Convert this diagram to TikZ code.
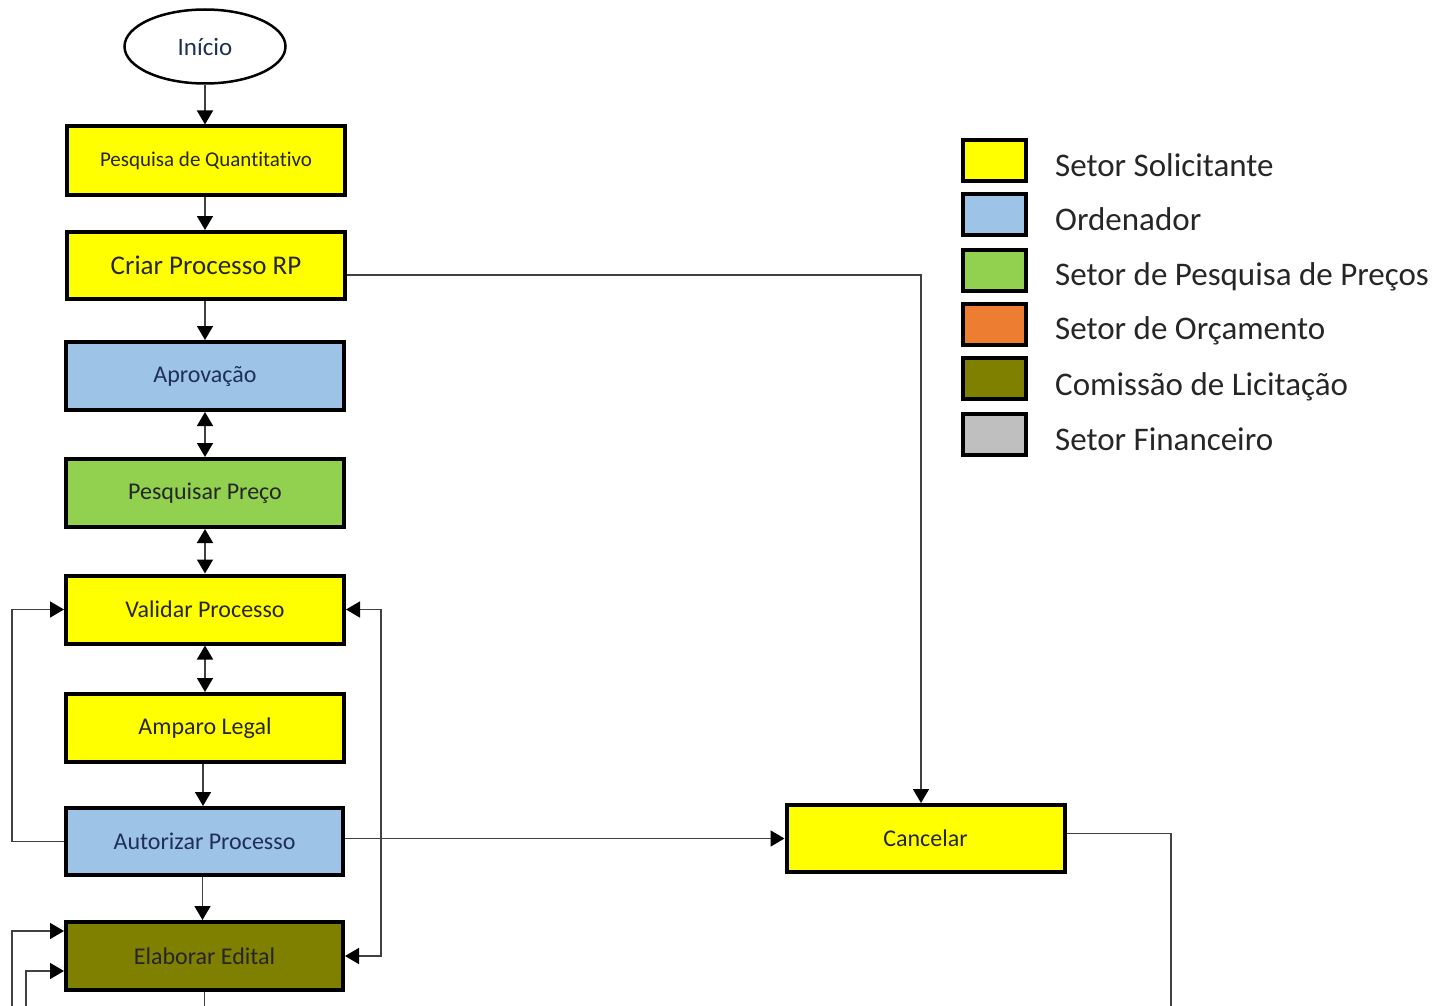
\documentclass[tikz,border=0pt]{standalone}
\usepackage{fontspec}
\setmainfont{Carlito}[RawFeature={-liga;-clig;-dlig}]
\usetikzlibrary{arrows.meta,shapes.geometric}
\definecolor{cyel}{HTML}{FFFF00}
\definecolor{cblue}{HTML}{9DC3E6}
\definecolor{cgreen}{HTML}{92D050}
\definecolor{corange}{HTML}{ED7D31}
\definecolor{colive}{HTML}{7F7F00}
\definecolor{cgrey}{HTML}{BFBFBF}
\definecolor{navy}{HTML}{1F2F55}
\definecolor{txt}{HTML}{262626}
\tikzset{
  procbox/.style={draw=black, line width=4pt, minimum width=278pt, minimum height=68pt, inner sep=0pt, text=txt, font=\fontsize{24}{28}\selectfont},
  swatch/.style={draw=black, line width=4pt, minimum width=63pt, minimum height=41pt, inner sep=0pt},
  legtext/.style={anchor=base west, inner sep=0pt, text=txt, font=\fontsize{33}{38}\selectfont},
  conn/.style={line width=1.6pt, draw=black!75, arrows={-Triangle[width=16pt,length=14pt,color=black]}},
  conn2/.style={line width=1.6pt, draw=black!75, arrows={Triangle[width=16pt,length=14pt,color=black]-Triangle[width=16pt,length=14pt,color=black]}},
  plain/.style={line width=1.6pt, draw=black!75}
}
\begin{document}
\begin{tikzpicture}[x=1pt,y=-1pt]
\useasboundingbox (0,0) rectangle (1435,1006);
% nodes
\node[ellipse, draw=black, line width=2.5pt, minimum width=161pt, minimum height=74pt, inner sep=0pt, text=navy, font=\fontsize{25}{30}\selectfont] (start) at (205,46.5) {Início};
\node[procbox, fill=cyel, font=\fontsize{21}{25}\selectfont] (pq) at (206,160.5) {Pesquisa de Quantitativo};
\node[procbox, fill=cyel, font=\fontsize{27}{31}\selectfont, minimum height=67pt] (crp) at (206,265.5) {Criar Processo RP};
\node[procbox, fill=cblue, text=navy] (apr) at (205,376) {Aprovação};
\node[procbox, fill=cgreen] (pp) at (205,493) {Pesquisar Preço};
\node[procbox, fill=cyel] (vp) at (205,609.5) {Validar Processo};
\node[procbox, fill=cyel] (al) at (205,728) {Amparo Legal};
\node[procbox, fill=cblue, text=navy, minimum width=277pt, minimum height=67pt] (ap) at (204.5,841.5) {Autorizar Processo};
\node[procbox, fill=colive, minimum width=277pt] (ee) at (204.5,956) {Elaborar Edital};
\node[procbox, fill=cyel, minimum height=67pt] (canc) at (925.5,838.5) {Cancelar};
% legend
\node[swatch, fill=cyel] (l1) at (994,160.5) {};
\node[swatch, fill=cblue] (l2) at (994,214.5) {};
\node[swatch, fill=cgreen] (l3) at (994,270.5) {};
\node[swatch, fill=corange] (l4) at (994,324.5) {};
\node[swatch, fill=colive] (l5) at (994,378.5) {};
\node[swatch, fill=cgrey] (l6) at (994,434) {};
\node[legtext] (t1) at (1055,176) {Setor Solicitante};
\node[legtext] (t2) at (1055,230) {Ordenador};
\node[legtext] (t3) at (1055,285) {Setor de Pesquisa de Preços};
\node[legtext] (t4) at (1055,339) {Setor de Orçamento};
\node[legtext] (t5) at (1055,395) {Comissão de Licitação};
\node[legtext] (t6) at (1055,450) {Setor Financeiro};
% connectors
\draw[conn] (start.south) -- (start.south |- pq.north);
\draw[conn] (pq.south -| start.south) -- (crp.north -| start.south);
\draw[conn] (crp.south -| start.south) -- (apr.north -| start.south);
\draw[conn2] (apr.south) -- (pp.north);
\draw[conn2] (pp.south) -- (vp.north);
\draw[conn2] (vp.south) -- (al.north);
\draw[conn] ([xshift=-2pt]al.south) -- ([xshift=-2pt]al.south |- ap.north);
\draw[conn] ([xshift=-2pt]ap.south) -- ([xshift=-2pt]ap.south |- ee.north);
\draw[conn] (crp.east |- 0,275) -| ([xshift=-4.5pt]canc.north);
\draw[conn] (ap.east |- canc.west) -- (canc.west);
\coordinate (cr) at (1171,1006);
\draw[plain] ([yshift=5pt]canc.east) -| (cr);
\draw[conn] (ap.west) -- ++(-52,0) |- (vp.west);
\draw[conn2] (vp.east) -- ++(35,0) |- (ee.east);
\coordinate (b1) at (12,1006);
\coordinate (b2) at (26,1006);
\coordinate (b3) at (205,1006);
\draw[conn] (b1) |- ([yshift=25pt]ee.west);
\draw[conn] (b2) |- ([yshift=-15pt]ee.west);
\draw[plain] (ee.south) -- (ee.south |- b3);
\end{tikzpicture}
\end{document}
